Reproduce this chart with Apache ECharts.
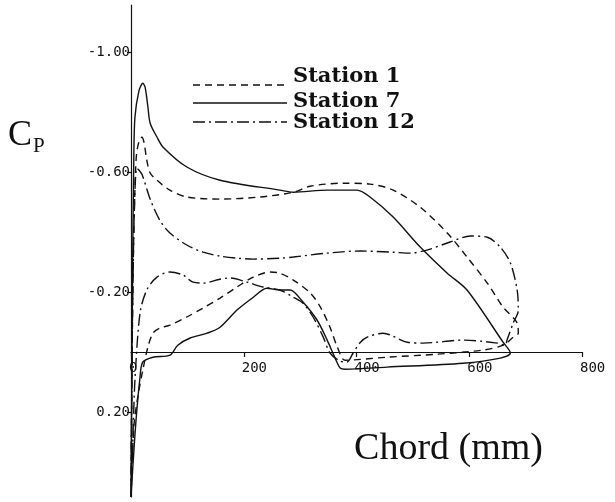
<!DOCTYPE html>
<html>
<head>
<meta charset="utf-8">
<script src="https://cdn.jsdelivr.net/npm/echarts@6/dist/echarts.min.js"></script>
<style>
html,body{margin:0;padding:0;background:#fff;}
#chart{width:615px;height:502px;}
</style>
</head>
<body>
<div id="chart"></div>
<script>
// ---- data (chord in mm, Cp) ----
const xTicks = [0, 200, 400, 600, 800];
const yTickValues = [-1.0, -0.6, -0.2, 0.2];
const seriesNames = ['Station 1', 'Station 7', 'Station 12'];

const st1UpperX  = [0, 2, 5, 8, 10, 14, 19, 23, 28, 34, 46, 69, 99, 158, 229, 288, 318, 376, 424, 465, 513, 561, 596, 632, 660, 685, 687];
const st1UpperCp = [0.483, 0, -0.4, -0.6, -0.663, -0.7, -0.716, -0.7, -0.64, -0.597, -0.573, -0.54, -0.517, -0.51, -0.517, -0.533, -0.553, -0.563, -0.56, -0.54, -0.483, -0.397, -0.317, -0.23, -0.15, -0.097, -0.063];
const st1LowerX  = [0, 5, 12, 21, 30, 39, 51, 69, 99, 128, 158, 188, 217, 247, 264, 288, 318, 336, 353, 366, 380, 454, 543, 625, 660, 678, 687];
const st1LowerCp = [0.483, 0.25, 0.15, 0.06, -0.017, -0.063, -0.08, -0.09, -0.117, -0.147, -0.18, -0.217, -0.25, -0.267, -0.263, -0.24, -0.197, -0.15, -0.083, -0.017, 0.027, 0.017, 0.007, -0.007, -0.023, -0.05, -0.063];

const st7UpperX  = [0, 1, 3, 5, 7, 14, 21, 25, 30, 34, 46, 57, 99, 158, 264, 288, 348, 401, 424, 465, 513, 561, 596, 660, 673];
const st7UpperCp = [0.483, 0.2, -0.3, -0.65, -0.783, -0.87, -0.896, -0.883, -0.817, -0.763, -0.717, -0.683, -0.617, -0.573, -0.54, -0.533, -0.54, -0.54, -0.517, -0.45, -0.35, -0.263, -0.207, -0.033, 0.003];
const st7LowerX  = [0, 8, 16, 21, 39, 69, 83, 105, 135, 158, 188, 217, 241, 264, 282, 305, 330, 348, 362, 371, 380, 454, 589, 655, 673];
const st7LowerCp = [0.483, 0.25, 0.083, 0.033, 0.017, 0.01, -0.023, -0.047, -0.063, -0.083, -0.14, -0.183, -0.213, -0.207, -0.207, -0.167, -0.107, -0.04, 0.02, 0.053, 0.057, 0.05, 0.037, 0.02, 0.003];

const st12UpperX  = [0, 2, 5, 10, 14, 20, 34, 51, 69, 99, 128, 158, 188, 217, 264, 288, 348, 407, 465, 495, 525, 566, 602, 632, 655, 673, 685, 687, 678, 667, 664];
const st12UpperCp = [0.483, 0, -0.4, -0.613, -0.607, -0.59, -0.51, -0.44, -0.397, -0.357, -0.333, -0.32, -0.313, -0.31, -0.313, -0.317, -0.33, -0.337, -0.333, -0.33, -0.34, -0.367, -0.387, -0.383, -0.35, -0.297, -0.207, -0.14, -0.097, -0.04, -0.023];
const st12LowerX  = [0, 4, 7, 16, 28, 46, 69, 92, 110, 128, 158, 176, 206, 234, 264, 288, 305, 323, 341, 353, 371, 383, 394, 407, 419, 447, 490, 518, 589, 650, 664];
const st12LowerCp = [0.483, 0.25, 0.093, -0.13, -0.207, -0.25, -0.267, -0.257, -0.233, -0.23, -0.243, -0.247, -0.233, -0.217, -0.207, -0.183, -0.163, -0.117, -0.05, 0.003, 0.03, 0.033, 0.003, -0.033, -0.05, -0.063, -0.033, -0.03, -0.04, -0.03, -0.023];

// ---- build closed loops (upper LE->TE, then lower TE->LE) ----
function loop(ux, uy, lx, ly) {
  const pts = ux.map((x, i) => [x, uy[i]]);
  for (let i = lx.length - 1; i >= 0; i--) pts.push([lx[i], ly[i]]);
  return pts;
}
const loops = [
  loop(st1UpperX, st1UpperCp, st1LowerX, st1LowerCp),
  loop(st7UpperX, st7UpperCp, st7LowerX, st7LowerCp),
  loop(st12UpperX, st12UpperCp, st12LowerX, st12LowerCp)
];
const dashTypes = [[7, 5], 'solid', [12, 4, 2, 4]];
const INK = '#111';
const Y_MIN = -1.157, Y_MAX = 0.483;
const GRID_TOP = 5, GRID_BOTTOM = 5, CH = 502;
// shift the x axis from the grid bottom up to Cp = 0
const gridH = CH - GRID_TOP - GRID_BOTTOM;
const xAxisOffset = -Math.round(gridH * (Y_MAX - 0) / (Y_MAX - Y_MIN));

const chart = echarts.init(document.getElementById('chart'), null, {renderer: 'canvas'});
const option = {
  animation: false,
  backgroundColor: '#fff',
  grid: {left: 131, right: 33, top: GRID_TOP, bottom: GRID_BOTTOM, containLabel: false},
  xAxis: {
    type: 'value', min: 0, max: 800, interval: 200, position: 'bottom', offset: xAxisOffset,
    axisLine: {onZero: false, lineStyle: {color: INK, width: 1.2}},
    axisTick: {show: true, length: 5, lineStyle: {color: INK, width: 1.2}},
    axisLabel: {
      color: INK, fontFamily: 'DejaVu Sans Mono', fontSize: 14, margin: 9,
      align: 'left', padding: [0, 0, 0, -2], formatter: v => String(v)
    },
    splitLine: {show: false}
  },
  yAxis: {
    type: 'value', inverse: true, min: Y_MIN, max: Y_MAX,
    axisLine: {onZero: false, lineStyle: {color: INK, width: 1.2}},
    axisTick: {show: true, length: 4, customValues: yTickValues, lineStyle: {color: INK, width: 1.2}},
    axisLabel: {
      color: INK, fontFamily: 'DejaVu Sans Mono', fontSize: 14, margin: 1,
      customValues: yTickValues, padding: [0, 0, 5, 0],
      formatter: v => v.toFixed(2)
    },
    splitLine: {show: false}
  },
  series: loops.map((d, i) => ({
    name: seriesNames[i], type: 'line', data: d,
    showSymbol: false, smooth: 0.3, clip: false,
    lineStyle: {color: INK, width: 1.4, type: dashTypes[i]}
  })),
  graphic: [
    {type: 'text', left: 8, top: 118, style: {text: 'C', font: '36px "Liberation Serif"', fill: INK}},
    {type: 'text', left: 33, top: 136, style: {text: 'P', font: '21px "Liberation Serif"', fill: INK}},
    {type: 'text', right: 72, top: 430, style: {text: 'Chord (mm)', font: '38px "Liberation Serif"', fill: INK}},
    {type: 'line', shape: {x1: 193, y1: 85, x2: 287, y2: 85}, style: {stroke: INK, lineWidth: 1.4, lineDash: [7, 5]}},
    {type: 'line', shape: {x1: 193, y1: 103, x2: 287, y2: 103}, style: {stroke: INK, lineWidth: 1.4}},
    {type: 'line', shape: {x1: 193, y1: 122, x2: 287, y2: 122}, style: {stroke: INK, lineWidth: 1.4, lineDash: [12, 4, 2, 4]}},
    {type: 'text', left: 293, top: 66, style: {text: seriesNames[0], font: 'bold 21px "DejaVu Serif"', fill: INK}},
    {type: 'text', left: 293, top: 91, style: {text: seriesNames[1], font: 'bold 21px "DejaVu Serif"', fill: INK}},
    {type: 'text', left: 293, top: 112, style: {text: seriesNames[2], font: 'bold 21px "DejaVu Serif"', fill: INK}}
  ]
};
chart.setOption(option);
</script>
</body>
</html>
